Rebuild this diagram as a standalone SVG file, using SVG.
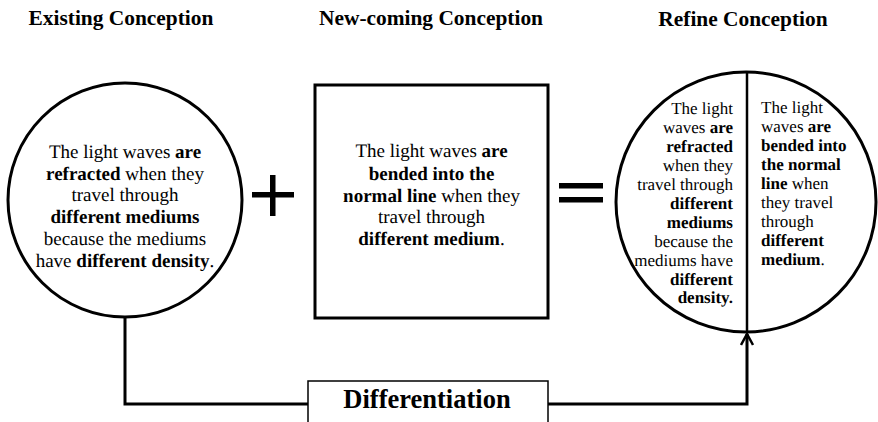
<svg xmlns="http://www.w3.org/2000/svg" width="878" height="422" viewBox="0 0 878 422">
<style>
text{font-family:"Liberation Serif","Times New Roman",serif;fill:#000}
.title{font-size:21.4px;font-weight:bold;text-anchor:middle}
.body text{font-size:19px;text-anchor:middle}
.small text{font-size:17px}
.b{font-weight:bold}
.shape{fill:#fff;stroke:#000;stroke-width:3}
.conn{fill:none;stroke:#000;stroke-width:3}
.diff{font-size:26.5px;font-weight:bold;text-anchor:middle}
</style>
<defs>
<marker id="arrow" viewBox="0 0 14 14" refX="12" refY="7" markerWidth="14" markerHeight="14" markerUnits="userSpaceOnUse" orient="auto">
<path d="M1,1 L12,7 L1,13" fill="none" stroke="#000" stroke-width="2.5"/>
</marker>
</defs>
<g id="connectors">
<path class="conn" d="M125,317 V404 H747 V334" marker-end="url(#arrow)"/>
</g>
<g id="titles">
<text class="title" x="121" y="25">Existing Conception</text>
<text class="title" x="431" y="25">New-coming Conception</text>
<text class="title" x="743" y="26">Refine Conception</text>
</g>
<g id="existing">
<circle class="shape" cx="125" cy="200" r="117"/>
<g class="body" transform="rotate(0.03 125 200)">
<text x="125" y="158">The light waves <tspan class="b">are</tspan></text>
<text x="125" y="180"><tspan class="b">refracted</tspan> when they</text>
<text x="125" y="201">travel through</text>
<text x="125" y="223"><tspan class="b">different mediums</tspan></text>
<text x="125" y="245">because the mediums</text>
<text x="125" y="267">have <tspan class="b">different density</tspan>.</text>
</g>
</g>
<g id="plus">
<rect x="252" y="192" width="42" height="5.5" fill="#000"/>
<rect x="270" y="175" width="5.5" height="41" fill="#000"/>
</g>
<g id="newcoming">
<rect class="shape" x="315" y="85" width="233" height="233" stroke-width="2.5"/>
<g class="body" transform="rotate(0.03 431 200)">
<text x="431.5" y="157">The light waves <tspan class="b">are</tspan></text>
<text x="431.5" y="180"><tspan class="b">bended into the</tspan></text>
<text x="431.5" y="202"><tspan class="b">normal line</tspan> when they</text>
<text x="431.5" y="223">travel through</text>
<text x="431.5" y="245"><tspan class="b">different medium</tspan>.</text>
</g>
</g>
<g id="equals">
<rect x="559" y="183" width="44" height="5.5" fill="#000"/>
<rect x="559" y="197" width="44" height="5.5" fill="#000"/>
</g>
<g id="refine">
<circle class="shape" cx="746" cy="202" r="130"/>
<line x1="747" y1="72" x2="747" y2="332" stroke="#000" stroke-width="2.5"/>
<g class="small" text-anchor="end" transform="rotate(0.03 733 200)">
<text x="733" y="114">The light</text>
<text x="733" y="133">waves <tspan class="b">are</tspan></text>
<text x="733" y="152" class="b">refracted</text>
<text x="733" y="171">when they</text>
<text x="733" y="190">travel through</text>
<text x="733" y="209" class="b">different</text>
<text x="733" y="228" class="b">mediums</text>
<text x="733" y="247">because the</text>
<text x="733" y="266">mediums have</text>
<text x="733" y="285" class="b">different</text>
<text x="733" y="303" class="b">density.</text>
</g>
<g class="small" text-anchor="start" transform="rotate(0.03 761 200)">
<text x="761" y="113">The light</text>
<text x="761" y="132">waves <tspan class="b">are</tspan></text>
<text x="761" y="151" class="b">bended into</text>
<text x="761" y="170" class="b">the normal</text>
<text x="761" y="189"><tspan class="b">line</tspan> when</text>
<text x="761" y="208">they travel</text>
<text x="761" y="227">through</text>
<text x="761" y="246" class="b">different</text>
<text x="761" y="265"><tspan class="b">medium</tspan>.</text>
</g>
</g>
<g id="differentiation">
<rect x="308" y="381" width="240" height="50" fill="#fff" stroke="#000" stroke-width="1.5"/>
<text class="diff" x="427" y="408">Differentiation</text>
</g>
</svg>
